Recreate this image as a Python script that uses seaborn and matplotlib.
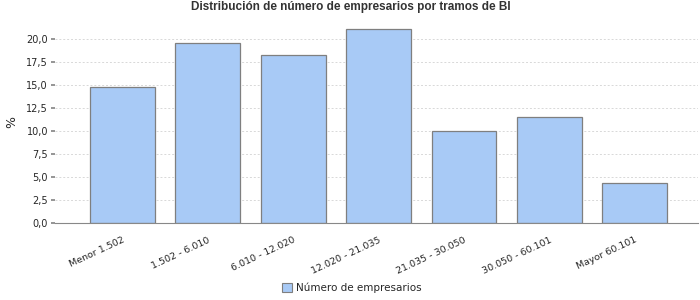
import matplotlib
matplotlib.use("Agg")
import matplotlib.pyplot as plt
import seaborn as sns
import pandas as pd
from matplotlib.patches import Patch
from matplotlib import font_manager as fm

categories = ["Menor 1.502", "1.502 - 6.010", "6.010 - 12.020", "12.020 - 21.035",
              "21.035 - 30.050", "30.050 - 60.101", "Mayor 60.101"]
values = [14.8, 19.6, 18.3, 21.05, 10.05, 11.5, 4.3]
series_name = "Número de empresarios"
yticks = [0, 2.5, 5, 7.5, 10, 12.5, 15, 17.5, 20]
ytick_labels = ["0,0", "2,5", "5,0", "7,5", "10,0", "12,5", "15,0", "17,5", "20,0"]

df = pd.DataFrame({"cat": categories, "val": values})

sns.set_theme(style="white")
plt.rcParams["font.family"] = ["DejaVu Sans"]

try:
    fm.findfont("Liberation Sans Narrow", fallback_to_default=False)
    title_font = "Liberation Sans Narrow"
    title_size = 10
except Exception:
    title_font = "Liberation Sans"
    title_size = 8.5

fig = plt.figure(figsize=(7, 3), dpi=100)
ax = fig.add_axes([55/700, 77/300, (698-55)/700, (273-77)/300])

sns.barplot(data=df, x="cat", y="val", ax=ax, color="#A8CAF6", saturation=1,
            edgecolor="#7f7f7f", linewidth=0.9, width=0.76)

ax.set_xlim(-0.79, 6.74)
ax.set_ylim(0, 21.3)
ax.set_yticks(yticks)
ax.set_yticklabels(ytick_labels, fontsize=7)
ax.set_xticks(range(len(categories)))
ax.set_xticklabels(categories, rotation=25, ha="right", fontsize=6.8, rotation_mode="anchor")
ax.tick_params(axis="x", length=0, pad=9)
ax.tick_params(axis="y", length=3, color="#888888", pad=2, left=True)
ax.set_xlabel("")
ax.set_ylabel("%", fontsize=9)
ax.yaxis.set_label_coords((18 - 55) / 643, (223 - 122) / 196)
ax.yaxis.grid(True, linestyle=(0, (2, 2)), color="#d8d8d8", linewidth=0.7)
ax.set_axisbelow(True)
for s in ["top", "right", "left"]:
    ax.spines[s].set_visible(False)
ax.spines["bottom"].set_color("#888888")
ax.spines["bottom"].set_linewidth(0.8)

fig.suptitle("Distribución de número de empresarios por tramos de BI", fontsize=title_size,
             fontweight="bold", y=1 - 7/300, va="center", x=351/700, family=title_font,
             color="#333333")

handles = [Patch(facecolor="#A8CAF6", edgecolor="#7f7f7f", linewidth=0.8, label=series_name)]
fig.legend(handles=handles, loc="center", bbox_to_anchor=(352/700, 1 - 288/300),
           frameon=False, fontsize=7.5, handlelength=0.9, handleheight=0.9, handletextpad=0.4)

fig.savefig("out.png", dpi=100)
